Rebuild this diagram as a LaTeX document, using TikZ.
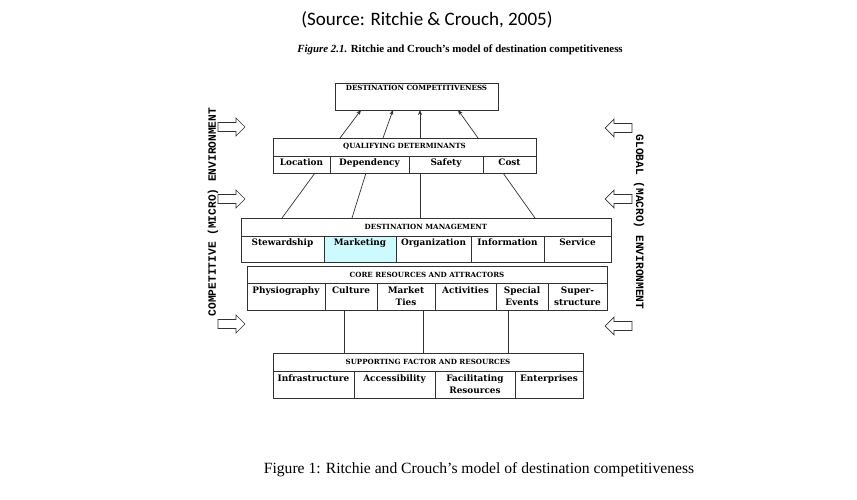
\documentclass[tikz,border=0pt]{standalone}
\usepackage{fontspec}
\newfontfamily\carl{Carlito}
\newfontfamily\tnr{Liberation Serif}
\newfontfamily\monof{Liberation Mono}
\newfontfamily\boxf{DejaVu Serif}
\usetikzlibrary{arrows.meta}
\definecolor{mkt}{RGB}{204,250,255}
\definecolor{ln}{RGB}{50,50,50}
\tikzset{
  boxline/.style={draw=ln, line width=0.8pt},
  cellbox/.style={boxline, anchor=north west, inner sep=0pt, outer sep=0pt},
  hdr/.style={font=\boxf\fontsize{7.1}{8}\selectfont\bfseries, inner sep=0pt},
  celltxt/.style={font=\boxf\fontsize{8.9}{12.5}\selectfont\bfseries, inner sep=0pt, anchor=north, align=center},
  conn/.style={line width=0.7pt, draw=ln},
  up/.style={conn, -{Stealth[length=5pt,width=4pt]}},
  hollow/.style={draw=ln, line width=0.7pt, fill=white},
  side/.style={font=\monof\fontsize{11.2}{12}\selectfont\bfseries, inner sep=0pt},
  harrow/.pic={\path[hollow] (0,-4.5) -- (18,-4.5) -- (18,-9) -- (27,0) -- (18,9) -- (18,4.5) -- (0,4.5) -- cycle;}
}
\begin{document}
\begin{tikzpicture}[x=1pt,y=-1pt]
\useasboundingbox (0,0) rectangle (857,500);
\fill[white] (0,0) rectangle (857,500);

% titles
\node[font=\carl\fontsize{19}{21}\selectfont, inner sep=0pt] (src) at (427,20) {(Source: Ritchie \& Crouch, 2005)};
\node[font=\tnr\fontsize{10.9}{12}\selectfont\bfseries, inner sep=0pt] (fig) at (460,50) {\textit{Figure 2.1.} Ritchie and Crouch’s model of destination competitiveness};
\node[font=\tnr\fontsize{15.6}{17}\selectfont, inner sep=0pt] (cap) at (479,470) {Figure 1: Ritchie and Crouch’s model of destination competitiveness};

% destination competitiveness
\node[cellbox, minimum width=163, minimum height=27] (dc) at (335,83) {};
\node[hdr, anchor=north] (dct) at (416.5,85) {DESTINATION COMPETITIVENESS};

% qualifying determinants
\node[cellbox, minimum width=263, minimum height=35] (qd) at (273,138) {};
\node[cellbox, minimum width=263, minimum height=18] (qdh) at (273,138) {};
\node[hdr] (qdt) at (qdh.center) {QUALIFYING DETERMINANTS};
\foreach \a/\b/\n/\t in {273/330/loc/Location, 330/409/dep/Dependency, 409/483/saf/Safety, 483/536/cost/Cost}{
  \node[cellbox, minimum width={\b-\a}, minimum height=17] (\n) at (\a,156) {};
  \node[celltxt] (\n-t) at ([yshift=-3pt]\n.north) {\t};
}

% destination management
\node[cellbox, minimum width=370, minimum height=44] (dm) at (241,218) {};
\node[cellbox, minimum width=370, minimum height=18] (dmh) at (241,218) {};
\node[hdr] (dmt) at (dmh.center) {DESTINATION MANAGEMENT};
\node[cellbox, fill=mkt, minimum width=72, minimum height=26] (mkt) at (324,236) {};
\foreach \a/\b/\n/\t in {241/324/stew/Stewardship, 324/396/mk/Marketing, 396/471/org/Organization, 471/544/inf/Information, 544/611/serv/Service}{
  \node[cellbox, minimum width={\b-\a}, minimum height=26] (\n) at (\a,236) {};
  \node[celltxt] (\n-t) at ([yshift=-3pt]\n.north) {\t};
}

% core resources
\node[cellbox, minimum width=360, minimum height=44] (cr) at (247,266) {};
\node[cellbox, minimum width=360, minimum height=17] (crh) at (247,266) {};
\node[hdr] (crt) at (crh.center) {CORE RESOURCES AND ATTRACTORS};
\foreach \a/\b/\n/\t in {247/325/phy/Physiography, 325/377/cul/Culture, 377/435/mt/{Market\\Ties}, 435/496/act/Activities, 496/548/se/{Special\\Events}, 548/607/sup/{Super-\\structure}}{
  \node[cellbox, minimum width={\b-\a}, minimum height=27] (\n) at (\a,283) {};
  \node[celltxt] (\n-t) at ([yshift=-3.5pt]\n.north) {\t};
}

% supporting factors
\node[cellbox, minimum width=310, minimum height=45] (sf) at (273,353) {};
\node[cellbox, minimum width=310, minimum height=18] (sfh) at (273,353) {};
\node[hdr] (sft) at (sfh.center) {SUPPORTING FACTOR AND RESOURCES};
\foreach \a/\b/\n/\t in {273/354/infr/Infrastructure, 354/435/acc/Accessibility, 435/515/fac/{Facilitating\\Resources}, 515/583/ent/Enterprises}{
  \node[cellbox, minimum width={\b-\a}, minimum height=27] (\n) at (\a,371) {};
  \node[celltxt] (\n-t) at ([yshift=-3.5pt]\n.north) {\t};
}

% arrows QD -> DC
\coordinate (q1) at (340,138); \coordinate (d1) at (361,110);
\coordinate (q2) at (383,138); \coordinate (d2) at (393,110);
\coordinate (q3) at (420,138); \coordinate (d3) at (420,110);
\coordinate (q4) at (478,138); \coordinate (d4) at (458,110);
\draw[up] (q1) -- (d1);
\draw[up] (q2) -- (d2);
\draw[up] (q3) -- (d3);
\draw[up] (q4) -- (d4);

% lines QD -> DM
\coordinate (qb1) at (315,173); \coordinate (mt1) at (282,218);
\coordinate (qb2) at (366,173); \coordinate (mt2) at (352,218);
\coordinate (qb3) at (420,173); \coordinate (mt3) at (420,218);
\coordinate (qb4) at (503,173); \coordinate (mt4) at (535,218);
\draw[conn] (qb1) -- (mt1);
\draw[conn] (qb2) -- (mt2);
\draw[conn] (qb3) -- (mt3);
\draw[conn] (qb4) -- (mt4);

% lines CR -> SF
\coordinate (cb1) at (344,310); \coordinate (st1) at (344,353);
\coordinate (cb2) at (423,310); \coordinate (st2) at (423,353);
\coordinate (cb3) at (508,310); \coordinate (st3) at (508,353);
\draw[conn] (cb1) -- (st1);
\draw[conn] (cb2) -- (st2);
\draw[conn] (cb3) -- (st3);

% side arrows
\pic (la1) at (218,127) {harrow};
\pic (la2) at (218,199) {harrow};
\pic (la3) at (218,324) {harrow};
\pic[xscale=-1] (ra1) at (632,128) {harrow};
\pic[xscale=-1] (ra2) at (632,199) {harrow};
\pic[xscale=-1] (ra3) at (632,326) {harrow};

% side labels
\node[side, rotate=90] (micro) at (213,212) {COMPETITIVE (MICRO) ENVIRONMENT};
\node[side, rotate=-90] (macro) at (639,222) {GLOBAL (MACRO) ENVIRONMENT};
\end{tikzpicture}
\end{document}
